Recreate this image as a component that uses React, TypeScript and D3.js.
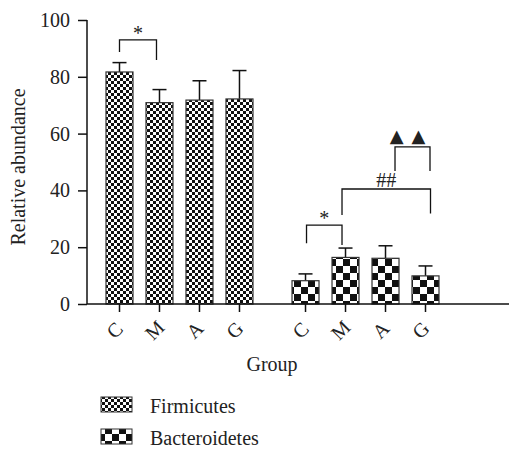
import React, { useEffect, useRef } from 'react';
import * as d3 from 'd3';

const phyla = ['Firmicutes', 'Bacteroidetes'];
const groups = ['C', 'M', 'A', 'G'];
const firmicutesMean = [81.7, 70.9, 71.8, 72.2];
const firmicutesErr = [3.3, 4.6, 6.8, 10.0];
const bacteroidetesMean = [8.2, 16.4, 16.1, 9.9];
const bacteroidetesErr = [2.4, 3.3, 4.4, 3.5];
const yTicks = [0, 20, 40, 60, 80, 100];

// significance brackets: level + leg ends in y units
const bracketPhylum = ['Firmicutes', 'Bacteroidetes', 'Bacteroidetes', 'Bacteroidetes'];
const bracketFrom = ['C', 'C', 'M', 'A'];
const bracketTo = ['M', 'M', 'G', 'G'];
const bracketLabel = ['*', '*', '##', '▲▲'];
const bracketLevel = [93, 27.8, 40.5, 55.3];
const bracketLeftEnd = [88.7, 21.4, 31.3, 46.8];
const bracketRightEnd = [85.9, 20.8, 31.9, 46.8];

const W = 509;
const H = 449;

export default function App() {
  const svgRef = useRef<SVGSVGElement>(null);

  useEffect(() => {
    const svg = d3.select(svgRef.current);
    svg.selectAll('*').remove();

    const font = "'Liberation Serif', 'DejaVu Serif', serif";
    const axisX = 87;
    const y = d3.scaleLinear().domain([0, 100]).range([304, 20]);

    const x0 = d3.scaleBand<string>()
      .domain(phyla)
      .range([99.5, 445.5])
      .paddingInner(0.14)
      .paddingOuter(0);
    const x1 = d3.scaleBand<string>()
      .domain(groups)
      .range([0, x0.bandwidth()])
      .paddingInner(0.325)
      .paddingOuter(0.1625);

    const cx = (p: string, g: string) => (x0(p) || 0) + (x1(g) || 0) + x1.bandwidth() / 2;

    // patterns
    const defs = svg.append('defs');
    const makeChecker = (id: string, cell: number) => {
      const p = defs.append('pattern')
        .attr('id', id)
        .attr('patternUnits', 'userSpaceOnUse')
        .attr('width', cell * 2)
        .attr('height', cell * 2);
      p.append('rect').attr('width', cell * 2).attr('height', cell * 2).attr('fill', '#fff');
      p.append('rect').attr('width', cell).attr('height', cell).attr('fill', '#111');
      p.append('rect').attr('x', cell).attr('y', cell).attr('width', cell).attr('height', cell).attr('fill', '#111');
    };
    makeChecker('pat-firm', 3);
    makeChecker('pat-bact', 7);
    const patternOf: Record<string, string> = {
      Firmicutes: 'url(#pat-firm)',
      Bacteroidetes: 'url(#pat-bact)',
    };

    const series = [
      { phylum: 'Firmicutes', mean: firmicutesMean, err: firmicutesErr },
      { phylum: 'Bacteroidetes', mean: bacteroidetesMean, err: bacteroidetesErr },
    ];

    const g = svg.append('g').attr('font-family', font).attr('font-size', 20);

    // error bars (drawn first so bars cover the lower part)
    series.forEach(s => {
      groups.forEach((grp, i) => {
        const c = cx(s.phylum, grp);
        const top = y(s.mean[i] + s.err[i]);
        g.append('line')
          .attr('x1', c).attr('x2', c)
          .attr('y1', y(s.mean[i])).attr('y2', top)
          .attr('stroke', '#111').attr('stroke-width', 1.5);
        g.append('line')
          .attr('x1', c - 7).attr('x2', c + 7)
          .attr('y1', top).attr('y2', top)
          .attr('stroke', '#111').attr('stroke-width', 1.5);
      });
    });

    // bars
    series.forEach(s => {
      g.selectAll(null)
        .data(groups)
        .enter()
        .append('rect')
        .attr('x', grp => (x0(s.phylum) || 0) + (x1(grp) || 0))
        .attr('y', (_, i) => y(s.mean[i]))
        .attr('width', x1.bandwidth())
        .attr('height', (_, i) => y(0) - y(s.mean[i]))
        .attr('fill', patternOf[s.phylum])
        .attr('stroke', '#333')
        .attr('stroke-width', 1.2);
    });

    // y axis
    const yAxis = g.append('g')
      .attr('transform', `translate(${axisX},0)`)
      .call(d3.axisLeft(y).tickValues(yTicks).tickSize(9).tickPadding(8).tickFormat(d3.format('d')));
    yAxis.attr('font-family', font).attr('font-size', 20);
    yAxis.select('.domain').attr('stroke', '#111').attr('stroke-width', 1.5).attr('d', `M0,${y(100)}V${y(0)}`);
    yAxis.selectAll('.tick line').attr('stroke', '#111').attr('stroke-width', 1.5);
    yAxis.selectAll('.tick text').attr('fill', '#222');

    // x axis
    g.append('line')
      .attr('x1', axisX).attr('x2', W)
      .attr('y1', y(0)).attr('y2', y(0))
      .attr('stroke', '#111').attr('stroke-width', 1.5);

    phyla.forEach(p => {
      groups.forEach(grp => {
        const c = cx(p, grp);
        g.append('line')
          .attr('x1', c).attr('x2', c)
          .attr('y1', y(0)).attr('y2', y(0) + 8)
          .attr('stroke', '#111').attr('stroke-width', 1.5);
        g.append('text')
          .attr('transform', `translate(${c},${y(0) + 31}) rotate(-45)`)
          .attr('text-anchor', 'middle')
          .attr('fill', '#222')
          .text(grp);
      });
    });

    // axis titles
    g.append('text')
      .attr('x', 272)
      .attr('y', 371)
      .attr('text-anchor', 'middle')
      .attr('fill', '#222')
      .text('Group');

    g.append('text')
      .attr('transform', `translate(25,${(y(0) + y(100)) / 2 + 5}) rotate(-90)`)
      .attr('text-anchor', 'middle')
      .attr('fill', '#222')
      .text('Relative abundance');

    // significance brackets
    const legNudge = [[0, -3], [1, -3.5], [-3.5, 5], [9.5, 4.5]];
    bracketLabel.forEach((label, i) => {
      const xl = cx(bracketPhylum[i], bracketFrom[i]) + legNudge[i][0];
      const xr = cx(bracketPhylum[i], bracketTo[i]) + legNudge[i][1];
      const yl = y(bracketLevel[i]);
      g.append('path')
        .attr('d', `M${xl},${y(bracketLeftEnd[i])}V${yl}H${xr}V${y(bracketRightEnd[i])}`)
        .attr('fill', 'none')
        .attr('stroke', '#111')
        .attr('stroke-width', 1.3);
      const isTri = label.includes('▲');
      g.append('text')
        .attr('x', (xl + xr) / 2 + (isTri ? -1 : 0))
        .attr('y', yl + (isTri ? -5 : label === '##' ? -2 : 0))
        .attr('text-anchor', 'middle')
        .attr('fill', '#222')
        .attr('font-family', isTri ? "'DejaVu Sans', sans-serif" : font)
        .attr('font-size', isTri ? 18 : 20)
        .attr('letter-spacing', isTri ? 8 : null)
        .text(label);
    });

    // legend
    const legend = g.append('g');
    phyla.forEach((p, i) => {
      const base = 412.5 + i * 32;
      legend.append('rect')
        .attr('x', 101).attr('y', base - 15.5)
        .attr('width', 31).attr('height', 15)
        .attr('fill', patternOf[p])
        .attr('stroke', '#333')
        .attr('stroke-width', 1);
      legend.append('text')
        .attr('x', 150).attr('y', base)
        .attr('fill', '#222')
        .text(p);
    });
  }, []);

  return (
    <svg
      ref={svgRef}
      width={W}
      height={H}
      style={{ position: 'absolute', left: 0, top: 0, background: '#fff' }}
    />
  );
}
